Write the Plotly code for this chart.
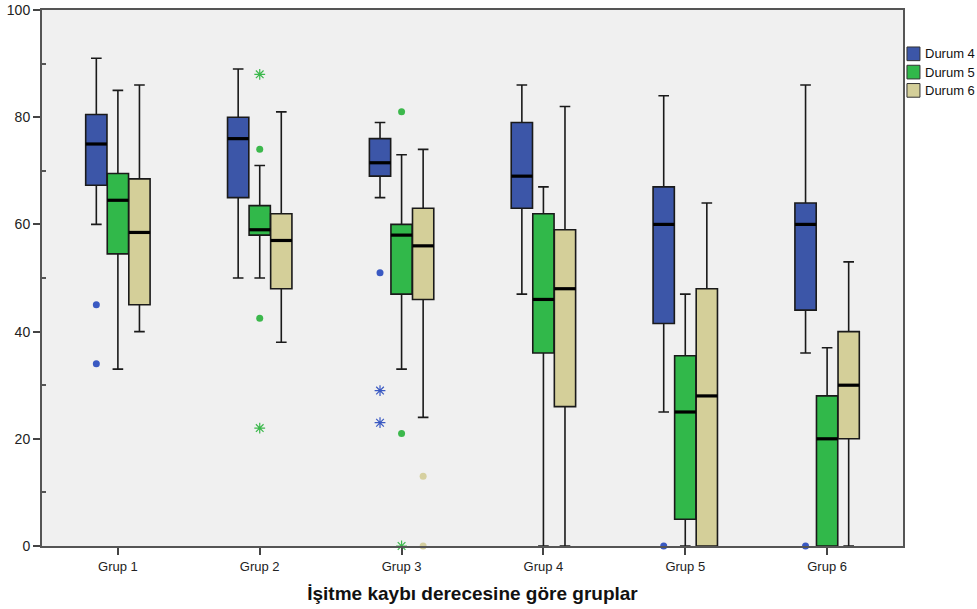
import plotly.graph_objects as go

# ---- data ----
groups = ["Grup 1", "Grup 2", "Grup 3", "Grup 4", "Grup 5", "Grup 6"]
series = ["Durum 4", "Durum 5", "Durum 6"]

d4_low = [60, 50, 65, 47, 25, 36]
d4_q1 = [67.3, 65, 69, 63, 41.5, 44]
d4_med = [75, 76, 71.5, 69, 60, 60]
d4_q3 = [80.5, 80, 76, 79, 67, 64]
d4_high = [91, 89, 79, 86, 84, 86]

d5_low = [33, 50, 33, 0, 0, 0]
d5_q1 = [54.5, 58, 47, 36, 5, 0]
d5_med = [64.5, 59, 58, 46, 25, 20]
d5_q3 = [69.5, 63.5, 60, 62, 35.5, 28]
d5_high = [85, 71, 73, 67, 47, 37]

d6_low = [40, 38, 24, 0, 0, 0]
d6_q1 = [45, 48, 46, 26, 0, 20]
d6_med = [58.5, 57, 56, 48, 28, 30]
d6_q3 = [68.5, 62, 63, 59, 48, 40]
d6_high = [86, 81, 74, 82, 64, 53]

# outliers (group index, value)
d4_out_grp = [0, 0, 2, 4, 5]
d4_out_val = [45, 34, 51, 0, 0]
d4_ext_grp = [2, 2]
d4_ext_val = [29, 23]

d5_out_grp = [1, 1, 2, 2]
d5_out_val = [74, 42.5, 81, 21]
d5_ext_grp = [1, 1, 2]
d5_ext_val = [88, 22, 0]

d6_out_grp = [2, 2]
d6_out_val = [13, 0]
d6_ext_grp = []
d6_ext_val = []

# ---- styling ----
fills = ["#3C56A8", "#31B84A", "#D4CF99"]
pt_colors = ["#3A59C2", "#3CB84C", "#D6D0A0"]
offsets = [-0.152, 0.0, 0.152]
box_w = 0.15
font_family = "Liberation Sans, Arial, sans-serif"

stats = [
    (d4_low, d4_q1, d4_med, d4_q3, d4_high),
    (d5_low, d5_q1, d5_med, d5_q3, d5_high),
    (d6_low, d6_q1, d6_med, d6_q3, d6_high),
]
outs = [
    (d4_out_grp, d4_out_val, d4_ext_grp, d4_ext_val),
    (d5_out_grp, d5_out_val, d5_ext_grp, d5_ext_val),
    (d6_out_grp, d6_out_val, d6_ext_grp, d6_ext_val),
]

fig = go.Figure()

for k, name in enumerate(series):
    low, q1, med, q3, high = stats[k]
    xs = [i + offsets[k] for i in range(len(groups))]
    fig.add_trace(go.Box(
        name=name, x=xs, q1=q1, median=med, q3=q3,
        lowerfence=low, upperfence=high,
        width=box_w, whiskerwidth=0.5,
        fillcolor=fills[k], line=dict(color="#1a1a1a", width=1.6),
        boxpoints=False, hoverinfo="y", showlegend=False,
    ))

for k, name in enumerate(series):
    low, q1, med, q3, high = stats[k]
    mx, my = [], []
    for i, m in enumerate(med):
        c = i + offsets[k]
        mx += [c - box_w / 2, c + box_w / 2, None]
        my += [m, m, None]
    fig.add_trace(go.Scatter(x=mx, y=my, mode="lines",
                             line=dict(color="black", width=3.2),
                             showlegend=False, hoverinfo="skip"))

for k, name in enumerate(series):
    og, ov, eg, ev = outs[k]
    if og:
        fig.add_trace(go.Scatter(
            x=[g + offsets[k] for g in og], y=ov, mode="markers",
            marker=dict(symbol="circle", size=7, color=pt_colors[k]),
            showlegend=False, cliponaxis=False))
    if eg:
        fig.add_trace(go.Scatter(
            x=[g + offsets[k] for g in eg], y=ev, mode="markers",
            marker=dict(symbol="asterisk-open", size=9, color=pt_colors[k],
                        line=dict(color=pt_colors[k], width=1.2)),
            showlegend=False, cliponaxis=False))

# manual legend (swatch + text) to the right of the plot frame
leg_x0, leg_x1, leg_tx = 1.0046, 1.0197, 1.0232
leg_top, leg_h, leg_step = 0.931, 0.0255, 0.0341
shapes, annos = [], []
for k, name in enumerate(series):
    ytop = leg_top - k * leg_step
    shapes.append(dict(type="rect", xref="paper", yref="paper",
                       x0=leg_x0, x1=leg_x1, y0=ytop - leg_h, y1=ytop,
                       fillcolor=fills[k], line=dict(color="#333", width=1)))
    annos.append(dict(text=name, xref="paper", yref="paper", x=leg_tx,
                      y=ytop - leg_h / 2, xanchor="left", yanchor="middle",
                      showarrow=False, font=dict(size=13, color="#111")))

fig.update_layout(
    width=977, height=609,
    margin=dict(l=42, r=74, t=10, b=63, autoexpand=False),
    paper_bgcolor="white", plot_bgcolor="#F0F0F0",
    font=dict(family=font_family, color="#222", size=12),
    boxmode="overlay",
    showlegend=False,
    shapes=shapes, annotations=annos,
    xaxis=dict(
        range=[-0.535, 5.535], tickvals=list(range(len(groups))),
        ticktext=groups, ticks="outside", ticklen=7, tickwidth=1.5,
        tickcolor="#444", showgrid=False, zeroline=False, automargin=False,
        showline=True, linecolor="#555", linewidth=2, mirror=True,
        tickfont=dict(size=13, color="#222"),
        title=dict(text="<b>İşitme kaybı derecesine göre gruplar</b>",
                   font=dict(size=19, color="#111"), standoff=14),
    ),
    yaxis=dict(
        range=[0, 100], tickvals=[0, 20, 40, 60, 80, 100],
        ticks="outside", ticklen=7, tickwidth=1.5, tickcolor="#444",
        minor=dict(tickvals=[10, 30, 50, 70, 90], ticks="inside",
                   ticklen=4, tickcolor="#555", showgrid=False),
        showgrid=False, zeroline=False, automargin=False,
        showline=True, linecolor="#555", linewidth=2, mirror=True,
        tickfont=dict(size=14, color="#222"),
    ),
)

fig.write_html("out.html", config={"displayModeBar": False},
               post_script="document.body.style.margin='0px';document.body.style.overflow='hidden';")
